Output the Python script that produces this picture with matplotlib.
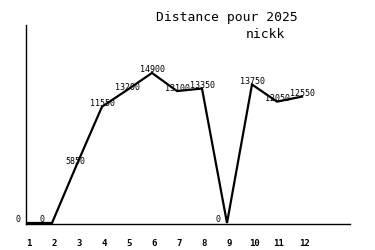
import matplotlib
matplotlib.use("Agg")
import matplotlib.pyplot as plt
import matplotlib.transforms as mtransforms

# valeurs
mois = [1, 2, 3, 4, 5, 6, 7, 8, 9, 10, 11, 12]
distance = [0, 0, 5850, 11550, 13200, 14900, 13100, 13350, 0, 13750, 12050, 12550]
titre = "Distance pour 2025"
auteur = "nickk"

plt.rcParams['font.family'] = 'DejaVu Sans Mono'

fig = plt.figure(figsize=(3.75, 2.5), dpi=100)
ax = fig.add_axes([26/375, 26/250, 324/375, 199/250])

ax.plot(mois, distance, color='black', lw=1.6, solid_joinstyle='miter')

# etiquettes des points, un peu a gauche et au-dessus
for m, d in zip(mois, distance):
    off = mtransforms.offset_copy(ax.transData, fig=fig, x=-12, y=3, units='dots')
    ax.text(m, d, str(d), transform=off, ha='left', va='center', fontsize=6, color='black')

ax.set_xlim(0.96, 13.92)
ax.set_ylim(-100, 19660)

for s in ['top', 'right']:
    ax.spines[s].set_visible(False)
ax.spines['left'].set_linewidth(1)
ax.spines['bottom'].set_linewidth(1)

ax.set_yticks([])
ax.set_xticks(mois)
ax.set_xticklabels([str(m) for m in mois], fontsize=6.5, fontweight='bold')
ax.tick_params(axis='x', length=0, pad=11)
shift = mtransforms.ScaledTranslation(2/100, 0, fig.dpi_scale_trans)
for lab in ax.get_xticklabels():
    lab.set_transform(lab.get_transform() + shift)

fig.text(227/375, 1 - 18/250, titre, ha='center', va='center', fontsize=9.4)
fig.text(265/375, 1 - 34/250, auteur, ha='center', va='center', fontsize=9.4)

fig.savefig('out.png', dpi=100, facecolor='white')
